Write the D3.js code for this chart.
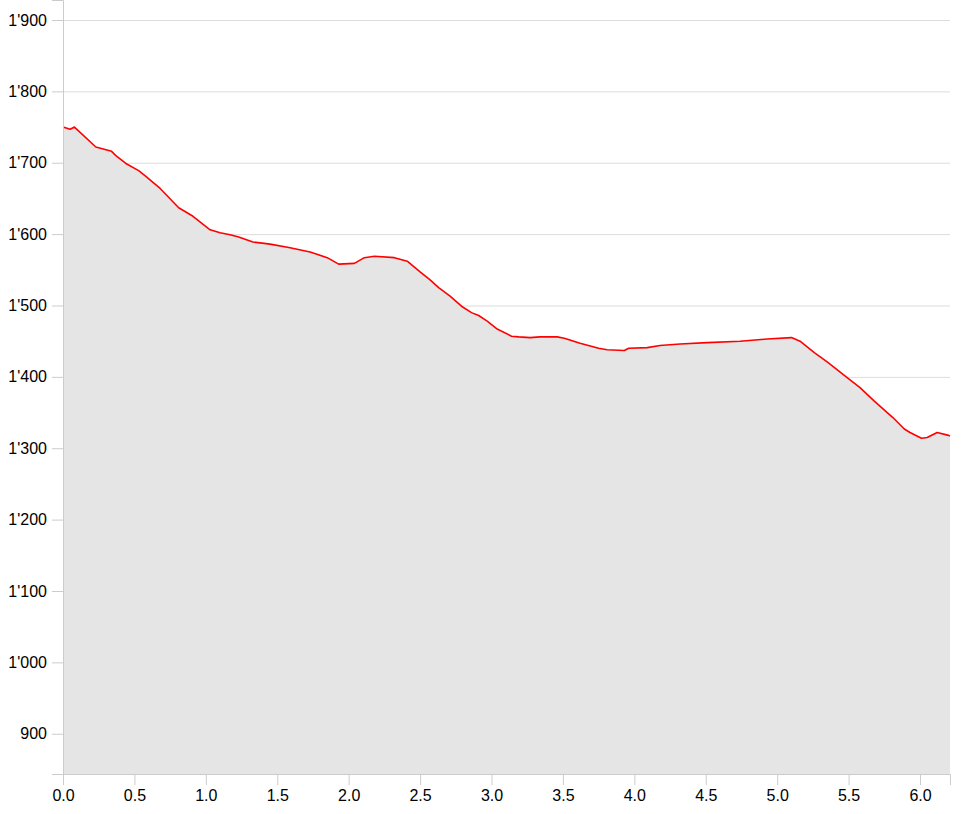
<!DOCTYPE html>
<html>
<head>
<meta charset="utf-8">
<script src="https://cdn.jsdelivr.net/npm/d3@7"></script>
<style>
  body { margin: 0; background: #fff; }
  svg { display: block; font-family: "Liberation Sans", Arial, sans-serif; }
  .axis path, .axis line { stroke: #ccc; }
  .axis text { font-size: 16px; fill: #000; }
  .grid line { stroke: #ddd; }
</style>
</head>
<body>
<svg width="962" height="814"></svg>
<script>
// distance along the route (km)
var distance = [0.00, 0.05, 0.08, 0.23, 0.34, 0.37, 0.44, 0.53, 0.58, 0.68, 0.81, 0.91,
  1.03, 1.10, 1.17, 1.23, 1.33, 1.45, 1.59, 1.73, 1.85, 1.93, 2.04, 2.11, 2.18, 2.32,
  2.41, 2.50, 2.57, 2.63, 2.71, 2.79, 2.86, 2.91, 2.97, 3.04, 3.14, 3.19, 3.27, 3.34,
  3.46, 3.51, 3.62, 3.75, 3.81, 3.93, 3.96, 4.09, 4.18, 4.32, 4.51, 4.74, 4.93, 5.10,
  5.16, 5.26, 5.35, 5.49, 5.58, 5.68, 5.81, 5.89, 5.93, 6.01, 6.05, 6.12, 6.20, 6.21];

// elevation (m)
var elevation = [1750, 1747, 1750, 1722, 1716, 1710, 1699, 1689, 1681, 1664, 1637, 1625,
  1606, 1602, 1599, 1596, 1589, 1586, 1581, 1575, 1567, 1558, 1559, 1567, 1569, 1567,
  1562, 1547, 1536, 1525, 1513, 1499, 1490, 1486, 1478, 1467, 1457, 1456, 1455, 1456,
  1456, 1454, 1447, 1440, 1438, 1437, 1440, 1441, 1444, 1446, 1448, 1450, 1453, 1455,
  1450, 1434, 1421, 1399, 1385, 1366, 1343, 1327, 1322, 1314, 1315, 1322, 1318, 1317];

var xTicks = [0, 0.5, 1, 1.5, 2, 2.5, 3, 3.5, 4, 4.5, 5, 5.5, 6];
var yTicks = [900, 1000, 1100, 1200, 1300, 1400, 1500, 1600, 1700, 1800, 1900];

var svg = d3.select("svg"),
    margin = {top: 0, right: 12, bottom: 40, left: 63},
    width = +svg.attr("width") - margin.left - margin.right,
    height = +svg.attr("height") - margin.top - margin.bottom;

var points = distance.map(function(d, i) { return {d: d, e: elevation[i]}; });

var x = d3.scaleLinear().domain([0, d3.max(distance)]).range([0, width]);
var y = d3.scaleLinear().domain([843.6, 1928]).range([height, 0]);

var locale = d3.formatLocale({decimal: ".", thousands: "'", grouping: [3], currency: ["", ""]});
var fmtY = locale.format(",");

var g = svg.append("g").attr("transform", "translate(" + margin.left + "," + margin.top + ")");

//grid lines under the area
g.append("g")
    .attr("class", "grid")
  .selectAll("line")
  .data(yTicks)
  .enter().append("line")
    .attr("x1", 0)
    .attr("x2", width)
    .attr("y1", function(d) { return y(d) + 0.5; })
    .attr("y2", function(d) { return y(d) + 0.5; });

var area = d3.area()
    .x(function(d) { return x(d.d); })
    .y0(height)
    .y1(function(d) { return y(d.e); });

var line = d3.line()
    .x(function(d) { return x(d.d); })
    .y(function(d) { return y(d.e); });

g.append("path")
    .datum(points)
    .attr("fill", "#e5e5e5")
    .attr("d", area);

g.append("path")
    .datum(points)
    .attr("fill", "none")
    .attr("stroke", "#ff0000")
    .attr("stroke-width", 1.6)
    .attr("stroke-linejoin", "round")
    .attr("d", line);

g.append("g")
    .attr("class", "axis")
    .call(d3.axisLeft(y).tickValues(yTicks).tickFormat(fmtY).tickSize(11).tickPadding(5));

g.append("g")
    .attr("class", "axis")
    .attr("transform", "translate(0," + height + ")")
    .call(d3.axisBottom(x).tickValues(xTicks).tickFormat(d3.format(".1f")).tickSize(11).tickPadding(5));
</script>
</body>
</html>
